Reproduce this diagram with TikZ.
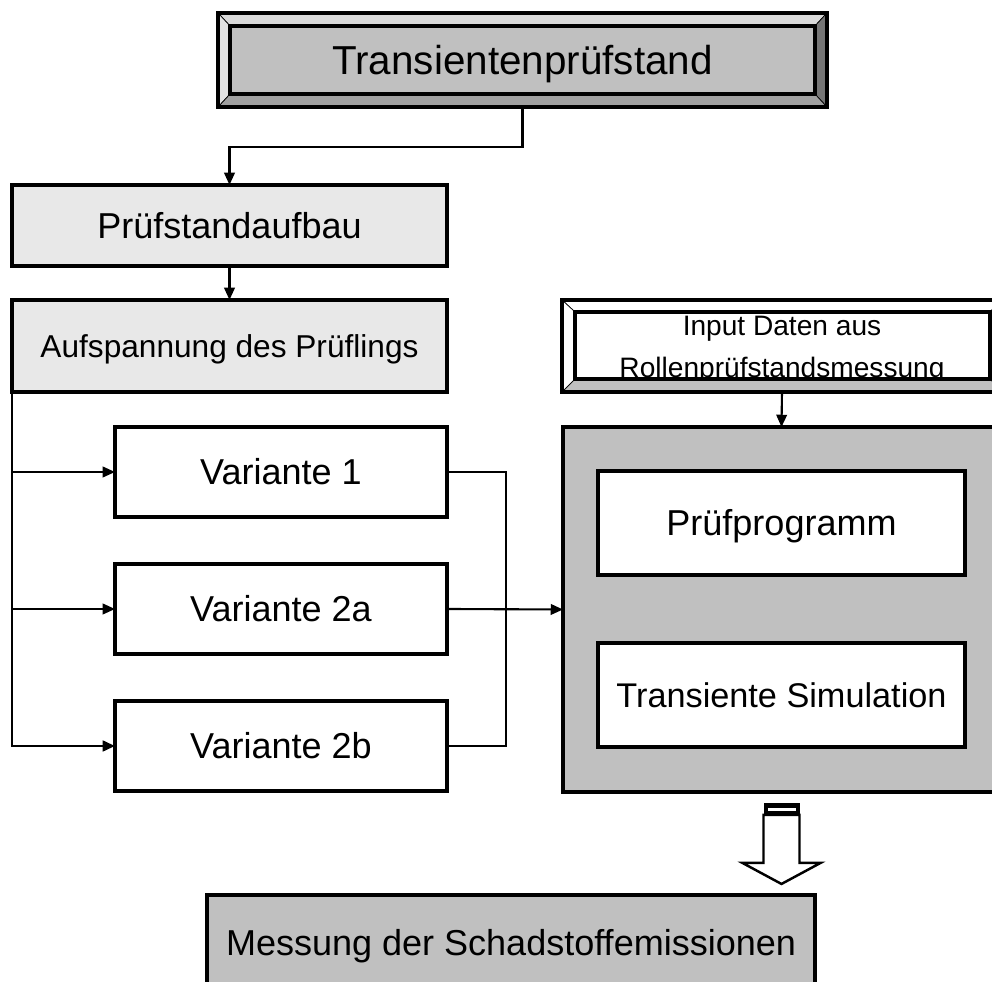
\documentclass[tikz,border=0pt]{standalone}
\usepackage{fontspec}
\setmainfont{Liberation Sans}
\usetikzlibrary{arrows.meta}
\definecolor{boxgray}{HTML}{C0C0C0}
\definecolor{boxlight}{HTML}{E8E8E8}
\definecolor{bevtop}{HTML}{D9D9D9}
\definecolor{bevleft}{HTML}{E2E2E2}
\definecolor{bevright}{HTML}{767676}
\definecolor{bevbottom}{HTML}{A0A0A0}

\begin{document}
\begin{tikzpicture}[x=0.02cm, y=-0.02cm,
    plate/.style={rectangle, inner sep=0pt, outer sep=0pt},
    box/.style={plate, draw=black, line width=2pt},
    large/.style={font=\fontsize{20.5}{24}\selectfont, text height=14.7pt, text depth=0pt},
    frame/.style={line width=2pt},
    bevel/.style={draw=black, line width=0.4pt},
    conn/.style={line width=1.2pt, -{Triangle[length=7pt,width=6pt]}},
    link/.style={line width=1pt}]
  \useasboundingbox (0,0) rectangle (992,982);
  \clip (0,0) rectangle (992,982);

  % title box with bevel
  \node[plate, fill=boxgray, minimum width=12.18cm, minimum height=1.88cm](topo) at (522.5,60){};
  \node[plate, minimum width=11.7cm, minimum height=1.36cm, font=\fontsize{23}{27}\selectfont, text height=16.5pt, text depth=0pt](topi) at (522.5,60){Transientenprüfstand};
  \filldraw[bevel, fill=bevtop] (topo.north west) -- (topo.north east) -- (topi.north east) -- (topi.north west) -- cycle;
  \filldraw[bevel, fill=bevleft] (topo.north west) -- (topi.north west) -- (topi.south west) -- (topo.south west) -- cycle;
  \filldraw[bevel, fill=bevright] (topo.north east) -- (topi.north east) -- (topi.south east) -- (topo.south east) -- cycle;
  \filldraw[bevel, fill=bevbottom] (topo.south west) -- (topo.south east) -- (topi.south east) -- (topi.south west) -- cycle;
  \draw[frame] (topi.north west) rectangle (topi.south east);
  \draw[frame] (topo.north west) rectangle (topo.south east);

  \node[box, large, fill=boxlight, minimum width=8.7cm, minimum height=1.62cm](aufbau) at (229.5,225.5){Prüfstandaufbau};
  \node[box, fill=boxlight, minimum width=8.7cm, minimum height=1.84cm, font=\fontsize{18}{22}\selectfont, text height=12.9pt, text depth=0pt](spann) at (229.5,346){Aufspannung des Prüflings};

  \node[box, large, fill=white, minimum width=6.64cm, minimum height=1.8cm](var1) at (281,472){Variante 1};
  \node[box, large, fill=white, minimum width=6.64cm, minimum height=1.8cm](var2a) at (281,609){Variante 2a};
  \node[box, large, fill=white, minimum width=6.64cm, minimum height=1.8cm](var2b) at (281,746){Variante 2b};

  % input box with bevel
  \node[plate, fill=white, minimum width=8.8cm, minimum height=1.84cm](inpo) at (782,346){};
  \node[plate, minimum width=8.3cm, minimum height=1.34cm](inpi) at (782.5,345.5){};
  \node[plate, align=center, font=\fontsize{16}{24}\selectfont](inptxt) at (782,350){Input Daten aus\\Rollenprüfstandsmessung};
  \filldraw[bevel, fill=white] (inpo.north west) -- (inpo.north east) -- (inpi.north east) -- (inpi.north west) -- cycle;
  \filldraw[bevel, fill=white] (inpo.north west) -- (inpi.north west) -- (inpi.south west) -- (inpo.south west) -- cycle;
  \filldraw[bevel, fill=boxgray] (inpo.north east) -- (inpi.north east) -- (inpi.south east) -- (inpo.south east) -- cycle;
  \filldraw[bevel, fill=boxgray] (inpo.south west) -- (inpo.south east) -- (inpi.south east) -- (inpi.south west) -- cycle;
  \draw[frame] (inpi.north west) rectangle (inpi.south east);
  \draw[frame] (inpo.north west) rectangle (inpo.south east);

  \node[box, fill=boxgray, minimum width=8.74cm, minimum height=7.3cm](sim) at (781.5,609.5){};
  \node[box, large, fill=white, minimum width=7.34cm, minimum height=2.08cm](prog) at (781.5,523){Prüfprogramm};
  \node[box, fill=white, minimum width=7.34cm, minimum height=2.08cm, font=\fontsize{19.5}{24}\selectfont, text height=14pt, text depth=0pt](trans) at (781.5,695){Transiente Simulation};

  \node[box, large, fill=boxgray, minimum width=12.16cm, minimum height=1.9cm](mess) at (511,942.5){Messung der Schadstoffemissionen};

  \coordinate (rail) at (spann.south west);
  \coordinate (merge) at (506,609);

  \draw[conn] (topo.south) -- ++(0,40) -| (aufbau.north);
  \draw[conn] (aufbau.south) -- (spann.north);
  \draw[conn, line width=1.6pt] (rail) |- (var2b.west);
  \draw[conn] (rail |- var1.west) -- (var1.west);
  \draw[conn] (rail |- var2a.west) -- (var2a.west);
  \draw[link] (var1.east) -| (merge |- var2b.east) -- (var2b.east);
  \draw[conn] (var2a.east) -- (sim.west);
  \draw[conn] (inpo.south) -- (sim.north);

  % hollow block arrow
  \begin{scope}[shift={(sim.south)}]
    \fill[black] (-18,11) rectangle (18,23);
    \fill[white] (-14,16) rectangle (14,19);
    \filldraw[fill=white, draw=black, line width=1.4pt, line join=miter] (-18,23) -- (-18,71) -- (-39,71) -- (0,92) -- (39,71) -- (18,71) -- (18,23) -- cycle;
  \end{scope}
\end{tikzpicture}
\end{document}
